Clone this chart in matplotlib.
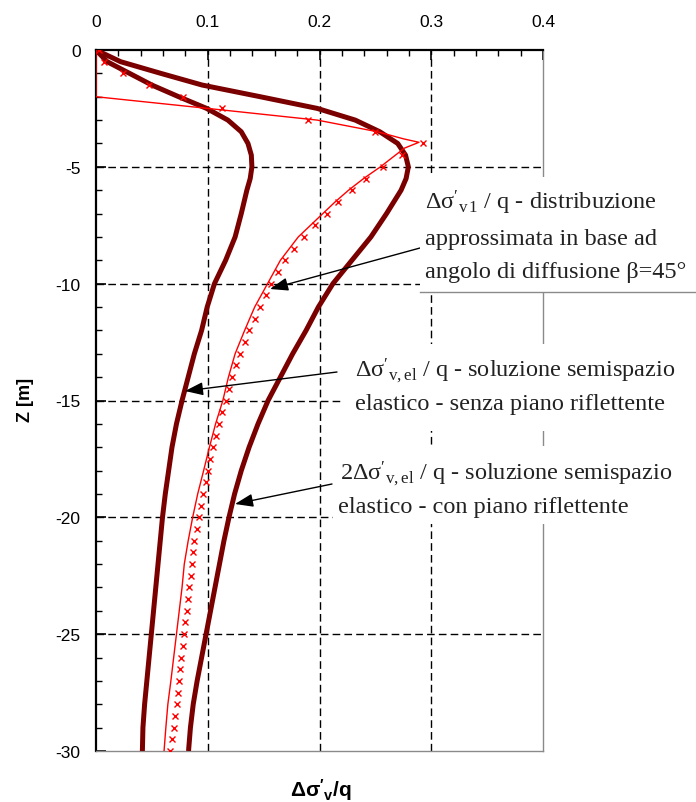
import matplotlib
matplotlib.use('Agg')
import matplotlib.pyplot as plt
from matplotlib.patches import Rectangle
from matplotlib.lines import Line2D
from matplotlib.ticker import MultipleLocator

plt.rcParams['axes.unicode_minus'] = False
plt.rcParams['mathtext.fontset'] = 'custom'
plt.rcParams['mathtext.rm'] = 'Liberation Serif'
plt.rcParams['mathtext.it'] = 'Liberation Serif:italic'
plt.rcParams['mathtext.bf'] = 'Liberation Sans:bold'

# depth [m]
z_el = [0, -0.5, -1, -1.5, -2, -2.5, -3, -3.5, -4, -4.5, -5, -5.5, -6,
        -7, -8, -9, -10, -11, -12, -13, -14, -15, -16, -17, -18, -19, -20,
        -21, -22, -23, -24, -25, -26, -27, -28, -29, -30]
# elastic half space, no reflecting plane
el_senza = [0, 0.010, 0.030, 0.050, 0.074, 0.099, 0.118, 0.130, 0.136, 0.139, 0.1395, 0.138, 0.135,
            0.130, 0.1245, 0.116, 0.106, 0.0995, 0.0945, 0.088, 0.0825, 0.077, 0.072, 0.068, 0.065, 0.062, 0.0595,
            0.0575, 0.0555, 0.0535, 0.0515, 0.0495, 0.0475, 0.0455, 0.0435, 0.042, 0.0415]
# elastic half space, with reflecting plane
el_con = [0, 0.022, 0.058, 0.095, 0.147, 0.198, 0.232, 0.254, 0.270, 0.277, 0.2795, 0.2775, 0.273,
          0.260, 0.246, 0.229, 0.212, 0.199, 0.188, 0.176, 0.165, 0.154, 0.145, 0.137, 0.130, 0.124, 0.119,
          0.1145, 0.1105, 0.1065, 0.1025, 0.0985, 0.0945, 0.0905, 0.087, 0.0845, 0.0828]

# approximate 45 deg distribution (line)
z_appr = [0, -2, -2.5, -3, -3.5, -3.8, -3.95, -4.2, -5, -5.5, -6, -6.5, -7,
          -8, -9, -10, -11, -12, -13, -14, -15, -16, -17, -18, -19, -20,
          -21, -22, -23, -24, -25, -26, -27, -28, -29, -30]
appr = [0, 0, 0.1, 0.198, 0.252, 0.275, 0.289, 0.276, 0.2545, 0.2395, 0.226, 0.214, 0.203,
        0.181, 0.165, 0.1535, 0.142, 0.133, 0.1245, 0.1185, 0.1135, 0.107, 0.1015, 0.0963, 0.091, 0.0865,
        0.0825, 0.079, 0.077, 0.0745, 0.072, 0.0695, 0.067, 0.0643, 0.0625, 0.0609]

# approximate distribution (x markers, every 0.5 m)
z_mk = [0, -0.5, -1, -1.5, -2, -2.5, -3, -3.5, -4, -4.5, -5, -5.5, -6, -6.5, -7, -7.5, -8, -8.5, -9, -9.5,
        -10, -10.5, -11, -11.5, -12, -12.5, -13, -13.5, -14, -14.5, -15, -15.5, -16, -16.5, -17, -17.5,
        -18, -18.5, -19, -19.5, -20, -20.5, -21, -21.5, -22, -22.5, -23, -23.5, -24, -24.5, -25, -25.5,
        -26, -26.5, -27, -27.5, -28, -28.5, -29, -29.5, -30]
mk = [0.003, 0.0075, 0.024, 0.047, 0.078, 0.113, 0.19, 0.25, 0.293, 0.274, 0.257, 0.242, 0.229, 0.217,
      0.207, 0.196, 0.186, 0.177, 0.169, 0.163, 0.157, 0.152, 0.147, 0.142, 0.137, 0.133, 0.129, 0.125,
      0.122, 0.119, 0.116, 0.113, 0.110, 0.107, 0.105, 0.102, 0.100, 0.098, 0.096, 0.094, 0.092, 0.090,
      0.088, 0.087, 0.086, 0.0848, 0.0836, 0.0824, 0.0812, 0.080, 0.0788, 0.0776, 0.0765, 0.0754, 0.0743,
      0.0732, 0.0721, 0.071, 0.0695, 0.068, 0.0665]

xticks = [0, 0.1, 0.2, 0.3, 0.4]
xtick_labels = ['0', '0.1', '0.2', '0.3', '0.4']
yticks = [0, -5, -10, -15, -20, -25, -30]

W, H = 696, 803
fig = plt.figure(figsize=(W / 100, H / 100), dpi=100)
ax = fig.add_axes([96 / W, 1 - 752 / H, (543 - 96) / W, (752 - 51) / H])

maroon = '#7a0000'
ax.plot(el_senza, z_el, color=maroon, lw=3.6, zorder=4, solid_capstyle='butt')
ax.plot(el_con, z_el, color=maroon, lw=3.6, zorder=4, solid_capstyle='butt')
ax.plot(appr, z_appr, color='#ff0000', lw=1.0, zorder=5)
ax.plot(mk, z_mk, ls='none', marker='x', ms=4.5, mew=1.0, color='#ff0000', zorder=5)

ax.set_xlim(0, 0.4)
ax.set_ylim(-30, 0)
ax.set_xticks(xticks)
ax.set_xticklabels(xtick_labels)
ax.set_yticks(yticks)
ax.xaxis.set_minor_locator(MultipleLocator(0.02))
ax.yaxis.set_minor_locator(MultipleLocator(1))
ax.xaxis.tick_top()
ax.tick_params(axis='both', which='both', direction='in', colors='black', labelsize=12.5)
ax.tick_params(axis='x', which='major', length=7, width=1.2, pad=15, top=True, bottom=False)
ax.tick_params(axis='x', which='minor', length=4, width=1.0, top=True, bottom=False)
ax.tick_params(axis='y', which='major', length=7, width=1.2, pad=11, left=True, right=False)
ax.tick_params(axis='y', which='minor', length=4, width=1.0, left=True, right=False)
for lab in ax.get_xticklabels() + ax.get_yticklabels():
    lab.set_fontfamily('Liberation Sans')

for v in [0.1, 0.2, 0.3]:
    ax.axvline(v, color='black', lw=1.0, ls=(0, (5.5, 3)), zorder=2)
for v in [-5, -10, -15, -20, -25]:
    ax.axhline(v, color='black', lw=1.0, ls=(0, (5.5, 3)), zorder=2)

ax.spines['top'].set_linewidth(1.6)
ax.spines['left'].set_linewidth(1.6)
ax.spines['right'].set_color('#8a8a8a')
ax.spines['bottom'].set_color('#8a8a8a')
ax.spines['right'].set_linewidth(1.0)
ax.spines['bottom'].set_linewidth(1.0)

# arrows
def px2data(px, py):
    return (px - 96) / (543 - 96) * 0.4, -(py - 51) / (752 - 51) * 30

arrows = [((420, 249), (270, 290)), ((337, 373), (185, 392)), ((332, 485), (235, 505))]
for tail, tip in arrows:
    ax.annotate('', xy=px2data(*tip), xytext=px2data(*tail), annotation_clip=False,
                arrowprops=dict(arrowstyle='-|>,head_length=1.1,head_width=0.4', color='black',
                                lw=1.0, shrinkA=0, shrinkB=0), zorder=6)

# white boxes behind the notes
for x0, y0, x1, y1 in [(420, 178, 696, 293), (343, 345, 696, 432), (333, 447, 696, 525)]:
    fig.add_artist(Rectangle((x0 / W, 1 - y1 / H), (x1 - x0) / W, (y1 - y0) / H,
                             transform=fig.transFigure, facecolor='white', edgecolor='none', zorder=10))
fig.add_artist(Line2D([420 / W, 696 / W], [1 - 293 / H, 1 - 293 / H], transform=fig.transFigure,
                      color='#8a8a8a', lw=1.0, zorder=11))

notes = [
    (425, 210, r"$\Delta\mathrm{\sigma}'_{\mathrm{v\,1}}$ / q - distribuzione"),
    (425, 245, "approssimata in base ad"),
    (425, 278, "angolo di diffusione β=45°"),
    (355, 377, r"$\Delta\mathrm{\sigma}'_{\mathrm{v,el}}$ / q - soluzione semispazio"),
    (355, 410, "elastico - senza piano riflettente"),
    (340, 480, r"2$\Delta\mathrm{\sigma}'_{\mathrm{v,el}}$ / q - soluzione semispazio"),
    (338, 513, "elastico - con piano riflettente"),
]
for x, y, s in notes:
    fig.text(x / W, 1 - y / H, s, family='Liberation Serif', fontsize=17.5, ha='left', va='baseline',
             color='#222222', zorder=12)

fig.text(26 / W, 1 - 400 / H, 'Z [m]', rotation=90, ha='center', va='center',
         family='Liberation Sans', fontweight='bold', fontsize=13)
fig.text(321 / W, 1 - 790 / H, r"$\mathbf{\Delta\sigma'_v/q}$", ha='center', va='center', fontsize=15)

fig.savefig('out.png', dpi=100)
